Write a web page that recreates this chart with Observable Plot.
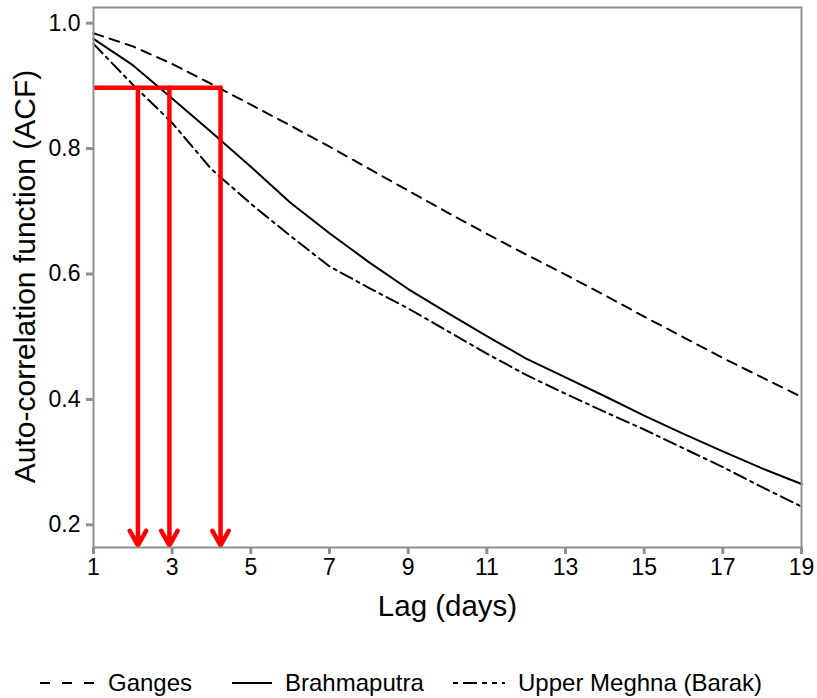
<!DOCTYPE html>
<html>
<head>
<meta charset="utf-8">
<script src="https://cdn.jsdelivr.net/npm/d3@7"></script>
<script src="https://cdn.jsdelivr.net/npm/@observablehq/plot@0.6"></script>
<style>
  html, body { margin: 0; padding: 0; background: #fff; }
  body { width: 817px; font-family: "Liberation Sans", Arial, sans-serif; }
  #legend { display: block; }
</style>
</head>
<body>
<div id="chart"></div>
<div id="legend"></div>
<script>
const lags = [1, 2, 3, 4, 5, 6, 7, 8, 9, 10, 11, 12, 13, 14, 15, 16, 17, 18, 19];
const ganges = [0.984, 0.963, 0.935, 0.903, 0.870, 0.837, 0.803, 0.768, 0.733, 0.698, 0.664, 0.631, 0.599, 0.566, 0.532, 0.499, 0.466, 0.435, 0.404];
const brahmaputra = [0.975, 0.933, 0.880, 0.826, 0.771, 0.714, 0.665, 0.619, 0.576, 0.538, 0.501, 0.465, 0.435, 0.405, 0.374, 0.345, 0.317, 0.290, 0.265];
const meghna = [0.967, 0.902, 0.841, 0.767, 0.712, 0.661, 0.612, 0.578, 0.545, 0.509, 0.473, 0.439, 0.409, 0.380, 0.352, 0.322, 0.292, 0.260, 0.229];
const seriesNames = ["Ganges", "Brahmaputra", "Upper Meghna (Barak)"];
const seriesDash = ["10,7", null, "13,5,3,5"];
const xTicks = [1, 3, 5, 7, 9, 11, 13, 15, 17, 19];
const yTicks = [0.2, 0.4, 0.6, 0.8, 1.0];
// red threshold annotation
const thresholdAcf = 0.897;
const arrowLags = [2.13, 2.93, 4.23];
const arrowTipAcf = 0.167;

const seriesValues = [ganges, brahmaputra, meghna];
const rows = [];
seriesNames.forEach((name, i) => lags.forEach((lag, j) => rows.push({series: name, lag, acf: seriesValues[i][j]})));

const lineMarks = seriesNames.map((name, i) =>
  Plot.line(rows.filter(r => r.series === name), {
    x: "lag", y: "acf", stroke: "black", strokeWidth: 2,
    strokeDasharray: seriesDash[i] ?? undefined
  })
);

const chart = Plot.plot({
  width: 817,
  height: 650,
  marginLeft: 93,
  marginRight: 16,
  marginTop: 7,
  marginBottom: 103,
  style: {fontFamily: "'Liberation Sans', Arial, sans-serif", fontSize: "23px", color: "black", background: "white"},
  x: {domain: [1, 19]},
  y: {domain: [0.1638, 1.025]},
  marks: [
    ...lineMarks,
    Plot.ruleY([thresholdAcf], {x1: 1, x2: arrowLags[arrowLags.length - 1] + 0.06, stroke: "#ff0000", strokeWidth: 4.5}),
    Plot.arrow(arrowLags, {x1: d => d, x2: d => d, y1: thresholdAcf, y2: arrowTipAcf, stroke: "#ff0000", strokeWidth: 4.5, headLength: 5.6, headAngle: 58}),
    Plot.frame({stroke: "#8f8f8f", strokeWidth: 2}),
    Plot.axisX({ticks: xTicks, tickFormat: d => String(d), tickSize: 7, tickPadding: 4, stroke: "#8f8f8f", strokeWidth: 3, fill: "black", fontSize: 23, label: null}),
    Plot.axisY({ticks: yTicks, tickFormat: d => d.toFixed(1), tickSize: 7, tickPadding: 6, stroke: "#8f8f8f", strokeWidth: 3, fill: "black", fontSize: 23, label: null}),
    Plot.text(["Lag (days)"], {frameAnchor: "bottom", lineAnchor: "middle", dy: 59, fontSize: 29.5, fill: "black"}),
    Plot.text(["Auto-correlation function (ACF)"], {frameAnchor: "left", textAnchor: "middle", lineAnchor: "middle", dx: -68, dy: -1, rotate: -90, fontSize: 30, fill: "black"})
  ]
});
document.getElementById("chart").appendChild(chart);

// legend (below the chart)
const lg = d3.select("#legend").append("svg").attr("width", 817).attr("height", 48)
  .style("font-family", "'Liberation Sans', Arial, sans-serif").style("font-size", "24px");
const legendSwatch = [[40, 95], [232, 272], [453, 505]];
const legendTextX = [108, 285, 518];
const legendDash = ["10,12", null, "5,5,14,5,5,5,5"];
seriesNames.forEach((name, i) => {
  lg.append("line").attr("x1", legendSwatch[i][0]).attr("x2", legendSwatch[i][1]).attr("y1", 33).attr("y2", 33)
    .attr("stroke", "black").attr("stroke-width", 2)
    .attr("stroke-dasharray", legendDash[i]);
  lg.append("text").attr("x", legendTextX[i]).attr("y", 41).attr("fill", "black").text(name);
});
</script>
</body>
</html>
